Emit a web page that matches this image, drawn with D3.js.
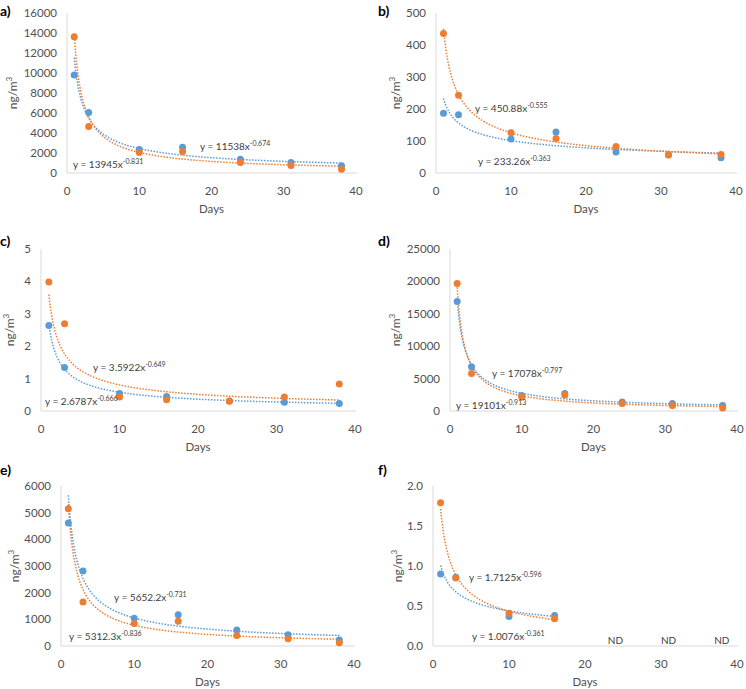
<!DOCTYPE html>
<html>
<head>
<meta charset="utf-8">
<script src="https://cdn.jsdelivr.net/npm/d3@7"></script>
<style>
  body { margin: 0; background: #fff; }
  svg { display: block; font-family: Lato, "Liberation Sans", sans-serif; }
</style>
</head>
<body>
<svg id="chart" width="746" height="689"></svg>
<script>
// sampling days
const days = [1, 3, 10, 16, 24, 31, 38];
const daysF = [1, 3, 10, 16];
const ndDays = [24, 31, 38];

const panelNames = ['a)', 'b)', 'c)', 'd)', 'e)', 'f)'];
const yMax = [16000, 500, 5, 25000, 6000, 2.0];
const yStep = [2000, 100, 1, 5000, 1000, 0.5];
const xTicks = [0, 10, 20, 30, 40];

// blue series
const blueA = [9800, 6050, 2350, 2580, 1380, 1050, 720];
const blueB = [187, 182, 106, 128, 66, 57, 48];
const blueC = [2.64, 1.34, 0.54, 0.45, 0.31, 0.27, 0.23];
const blueD = [16900, 6820, 2380, 2690, 1390, 1140, 830];
const blueE = [4610, 2810, 1040, 1175, 600, 425, 225];
const blueF = [0.90, 0.86, 0.37, 0.38];

// orange series
const orangeA = [13630, 4650, 2050, 2150, 1050, 750, 380];
const orangeB = [436, 243, 126, 108, 83, 56, 58];
const orangeC = [3.98, 2.69, 0.43, 0.35, 0.30, 0.43, 0.83];
const orangeD = [19680, 5790, 2170, 2480, 1140, 830, 460];
const orangeE = [5150, 1650, 840, 925, 390, 275, 125];
const orangeF = [1.79, 0.85, 0.41, 0.34];

// power trendlines y = a * x^b
const blueFit = [[11538, -0.674], [233.26, -0.363], [2.6787, -0.666], [17078, -0.797], [5652.2, -0.731], [1.0076, -0.361]];
const orangeFit = [[13945, -0.831], [450.88, -0.555], [3.5922, -0.649], [19101, -0.913], [5312.3, -0.836], [1.7125, -0.596]];
const blueEq = ['y = 11538x', 'y = 233.26x', 'y = 2.6787x', 'y = 17078x', 'y = 5652.2x', 'y = 1.0076x'];
const blueExp = ['-0.674', '-0.363', '-0.666', '-0.797', '-0.731', '-0.361'];
const orangeEq = ['y = 13945x', 'y = 450.88x', 'y = 3.5922x', 'y = 19101x', 'y = 5312.3x', 'y = 1.7125x'];
const orangeExp = ['-0.831', '-0.555', '-0.649', '-0.913', '-0.836', '-0.596'];

const blueSeries = [blueA, blueB, blueC, blueD, blueE, blueF];
const orangeSeries = [orangeA, orangeB, orangeC, orangeD, orangeE, orangeF];

const BLUE = '#5b9bd5';
const ORANGE = '#ed7d31';

// pixel layout of each panel
const layout = [
  {x0: 67, x1: 356, yb: 173, yt: 13, nx: 0, ny: 16, lx: 13, blueLab: [200, 150], orangeLab: [73, 168]},
  {x0: 436, x1: 736, yb: 173, yt: 13, nx: 378, ny: 16, lx: 396, blueLab: [478, 165], orangeLab: [475, 112]},
  {x0: 41, x1: 355, yb: 411, yt: 249, nx: 0, ny: 246, lx: 10, blueLab: [45, 405], orangeLab: [93, 371]},
  {x0: 450, x1: 737, yb: 411, yt: 249, nx: 378, ny: 246, lx: 396, blueLab: [492, 377], orangeLab: [456, 409]},
  {x0: 61, x1: 354, yb: 646, yt: 486, nx: 0, ny: 475, lx: 15, blueLab: [114, 601], orangeLab: [69, 640]},
  {x0: 433, x1: 737, yb: 646, yt: 486, nx: 378, ny: 475, lx: 398, blueLab: [472, 640], orangeLab: [469, 581]}
];

const svg = d3.select('#chart');

function drawPanel(i) {
  const L = layout[i];
  const g = svg.append('g');
  const x = d3.scaleLinear().domain([0, 40]).range([L.x0, L.x1]);
  const y = d3.scaleLinear().domain([0, yMax[i]]).range([L.yb, L.yt]);
  const xs = i === 5 ? daysF : days;

  // axes lines
  g.append('line').attr('x1', L.x0).attr('x2', L.x0).attr('y1', L.yt).attr('y2', L.yb)
    .attr('stroke', '#d9d9d9').attr('stroke-width', 1);
  g.append('line').attr('x1', L.x0).attr('x2', L.x1 + 1).attr('y1', L.yb).attr('y2', L.yb)
    .attr('stroke', '#d9d9d9').attr('stroke-width', 1);

  const yTicks = d3.range(0, yMax[i] + yStep[i] / 2, yStep[i]);
  const fmt = i === 5 ? d3.format('.1f') : d3.format('d');
  g.selectAll('text.yt').data(yTicks).enter().append('text')
    .attr('x', L.x0 - 10).attr('y', d => y(d) + 4)
    .attr('text-anchor', 'end').attr('font-size', 11.5).attr('fill', '#505050')
    .text(d => fmt(d));
  g.selectAll('text.xt').data(xTicks).enter().append('text')
    .attr('x', d => x(d)).attr('y', L.yb + 22)
    .attr('text-anchor', 'middle').attr('font-size', 11.5).attr('fill', '#505050')
    .text(d => d);

  g.append('text').attr('x', (L.x0 + L.x1) / 2).attr('y', L.yb + 40)
    .attr('text-anchor', 'middle').attr('font-size', 11.5).attr('fill', '#505050').text('Days');

  const yl = g.append('text')
    .attr('transform', 'translate(' + (L.lx + 4) + ',' + ((L.yt + L.yb) / 2) + ') rotate(-90)')
    .attr('text-anchor', 'middle').attr('font-size', 12).attr('fill', '#505050');
  yl.append('tspan').text('ng/m');
  yl.append('tspan').attr('dy', -5).attr('font-size', 8).text('3');

  g.append('text').attr('x', L.nx).attr('y', L.ny).attr('font-size', 14).attr('font-weight', 'bold')
    .attr('fill', '#000').text(panelNames[i]);

  // trendlines
  const line = d3.line().x(d => x(d[0])).y(d => y(d[1]));
  const xEnd = xs[xs.length - 1];
  [[blueFit[i], BLUE], [orangeFit[i], ORANGE]].forEach(([fit, col]) => {
    const pts = d3.range(1, xEnd + 0.001, 0.1).map(t => [t, fit[0] * Math.pow(t, fit[1])]);
    g.append('path').attr('d', line(pts)).attr('fill', 'none')
      .attr('stroke', col).attr('stroke-width', 1.5).attr('stroke-dasharray', '1.5,1.5');
  });

  // points
  g.selectAll('circle.b').data(blueSeries[i]).enter().append('circle')
    .attr('cx', (d, k) => x(xs[k])).attr('cy', d => y(d)).attr('r', 3.5).attr('fill', BLUE);
  g.selectAll('circle.o').data(orangeSeries[i]).enter().append('circle')
    .attr('cx', (d, k) => x(xs[k])).attr('cy', d => y(d)).attr('r', 3.5).attr('fill', ORANGE);

  // equation labels
  [[L.blueLab, blueEq[i], blueExp[i]], [L.orangeLab, orangeEq[i], orangeExp[i]]].forEach(([p, eq, ex]) => {
    const t = g.append('text').attr('x', p[0]).attr('y', p[1]).attr('font-size', 10).attr('fill', '#404040');
    t.append('tspan').text(eq);
    t.append('tspan').attr('dy', -4).attr('font-size', 7).text(ex);
  });

  if (i === 5) {
    g.selectAll('text.nd').data(ndDays).enter().append('text')
      .attr('x', d => x(d)).attr('y', L.yb - 2)
      .attr('text-anchor', 'middle').attr('font-size', 10).attr('fill', '#404040').text('ND');
  }
}

for (let i = 0; i < 6; i++) drawPanel(i);
</script>
</body>
</html>
